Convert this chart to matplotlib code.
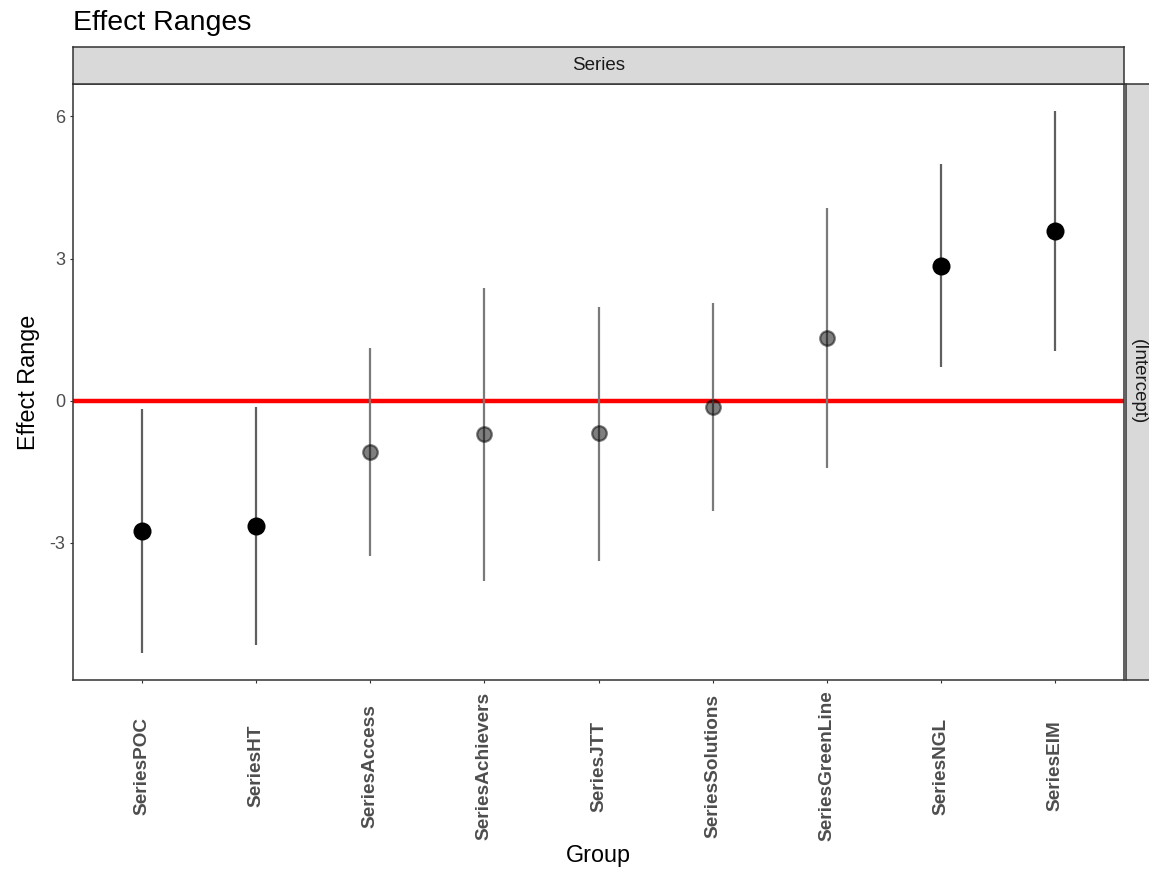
import matplotlib
matplotlib.use("Agg")
import matplotlib.pyplot as plt
import numpy as np

plt.rcParams['font.family'] = ['Liberation Sans', 'DejaVu Sans']

# ---- data ----
groups = ['SeriesPOC', 'SeriesHT', 'SeriesAccess', 'SeriesAchievers', 'SeriesJTT',
          'SeriesSolutions', 'SeriesGreenLine', 'SeriesNGL', 'SeriesEIM']
estimate = [-2.75, -2.65, -1.08, -0.71, -0.69, -0.13, 1.33, 2.85, 3.58]
lower = [-5.32, -5.15, -3.28, -3.80, -3.38, -2.32, -1.42, 0.71, 1.05]
upper = [-0.17, -0.13, 1.12, 2.38, 1.98, 2.06, 4.06, 5.00, 6.11]
yticks = [-3, 0, 3, 6]
ytick_labels = ['-3', '0', '3', '6']
title = 'Effect Ranges'
col_strip = 'Series'
row_strip = '(Intercept)'

W, H = 1149, 871
fig = plt.figure(figsize=(W / 100, H / 100), dpi=100)

L, R, T, B = 73, 1124, 84, 680
ax = fig.add_axes([L / W, 1 - B / H, (R - L) / W, (B - T) / H])

x = np.arange(len(groups))
est = np.array(estimate)
lo = np.array(lower)
hi = np.array(upper)
sig = (lo > 0) | (hi < 0)

# error bars
ax.vlines(x[sig], lo[sig], hi[sig], color='#5f5f5f', lw=1.6, zorder=2)
ax.vlines(x[~sig], lo[~sig], hi[~sig], color='#7a7a7a', lw=1.6, zorder=2)
# zero line
ax.axhline(0, color='#ff0000', lw=3.2, zorder=1)
# points
ax.plot(x[sig], est[sig], 'o', color='black', markersize=13, mew=0, zorder=3)
ax.plot(x[~sig], est[~sig], 'o', color='black', alpha=0.5, markersize=10.5,
        mew=1.6, zorder=3)

rng = max(hi.max(), est.max()) - min(lo.min(), est.min())
ax.set_ylim(min(lo.min(), est.min()) - 0.05 * rng, max(hi.max(), est.max()) + 0.05 * rng)
ax.set_xlim(-0.6, len(groups) - 0.4)

ax.set_yticks(yticks)
ax.set_yticklabels(ytick_labels)
ax.set_xticks(x)
ax.set_xticklabels(groups, rotation=90, fontweight='bold', fontsize=13.7, color='#4D4D4D')
for lab in ax.get_xticklabels():
    lab.set_verticalalignment('center')
ax.tick_params(axis='x', length=2.5, width=0.8, color='#333333', pad=59.5)
ax.tick_params(axis='y', length=2.5, width=0.8, color='#333333', pad=3,
               labelsize=13, labelcolor='#4D4D4D')

for s in ax.spines.values():
    s.set_color('#333333')
    s.set_linewidth(1.1)
ax.set_facecolor('white')

ax.set_xlabel('Group', fontsize=16.8, color='black')
ax.xaxis.set_label_coords(0.5, (B - 855) / (B - T))
ax.xaxis.label.set_verticalalignment('center')
ax.set_ylabel('Effect Range', fontsize=16.8, color='black')
ax.yaxis.set_label_coords((28 - L) / (R - L), 0.5)
ax.yaxis.label.set_verticalalignment('center')

# top strip
sx = fig.add_axes([L / W, 1 - T / H, (R - L) / W, 37 / H])
sx.set_facecolor('#D9D9D9')
sx.set_xticks([]); sx.set_yticks([])
for s in sx.spines.values():
    s.set_color('#333333'); s.set_linewidth(1.1)
sx.text(0.5, 0.5, col_strip, ha='center', va='center', fontsize=13.5,
        color='#1A1A1A', transform=sx.transAxes)

# right strip
rx = fig.add_axes([1125.5 / W, 1 - B / H, 37 / W, (B - T) / H])
rx.set_facecolor('#D9D9D9')
rx.set_xticks([]); rx.set_yticks([])
for s in rx.spines.values():
    s.set_color('#333333'); s.set_linewidth(1.1)
fig.text(1138.5 / W, 1 - ((T + B) / 2) / H, row_strip, ha='center', va='center',
         fontsize=13.5, rotation=-90, color='#1A1A1A')

fig.text(L / W, 1 - 30 / H, title, ha='left', va='baseline', fontsize=20.5, color='black')

fig.savefig('out.png', dpi=100, facecolor='white')
